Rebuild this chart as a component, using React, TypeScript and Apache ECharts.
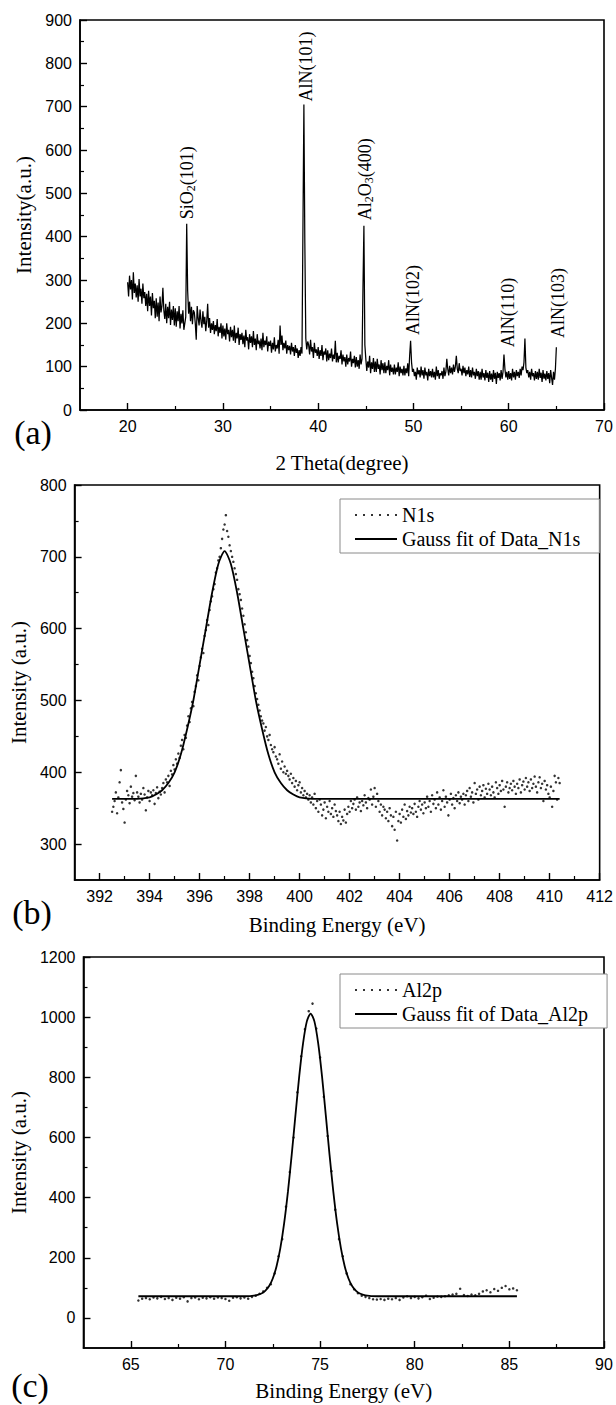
import React, { useEffect, useRef } from "react";
import * as echarts from "echarts";

const SERIF = "'Liberation Serif', 'Times New Roman', Times, serif";
const SANS = "'Liberation Sans', Arial, Helvetica, sans-serif";

// ---------------- (a) XRD pattern ----------------
const XRD_THETA_START = 20.0;
const XRD_THETA_STEP = 0.1;
const XRD_INTENSITY = [
  295, 262, 310, 278, 300, 255, 318, 270, 292, 260,
  288, 250, 302, 262, 280, 245, 292, 258, 272, 240,
  268, 228, 275, 240, 262, 218, 270, 235, 252, 212,
  258, 215, 248, 205, 262, 225, 240, 282, 230, 210,
  245, 200, 238, 212, 250, 196, 232, 208, 240, 195,
  235, 192, 228, 205, 240, 188, 222, 200, 230, 185,
  200, 215, 430, 275, 222, 250, 205, 238, 198, 230,
  225, 200, 162, 240, 212, 195, 232, 205, 190, 228,
  198, 215, 182, 205, 245, 190, 212, 178, 200, 185,
  205, 175, 196, 182, 210, 170, 192, 178, 200, 165,
  195, 170, 188, 162, 200, 175, 185, 158, 192, 168,
  185, 160, 195, 155, 178, 165, 190, 150, 175, 162,
  178, 152, 172, 145, 185, 160, 168, 140, 175, 155,
  170, 145, 182, 150, 165, 138, 175, 152, 160, 142,
  165, 138, 178, 145, 160, 150, 170, 135, 158, 148,
  160, 132, 155, 140, 168, 135, 150, 142, 162, 130,
  195, 150, 172, 138, 155, 142, 160, 130, 150, 138,
  148, 128, 155, 135, 145, 125, 150, 132, 142, 120,
  138, 125, 145, 130, 420, 705, 385, 165, 140, 158,
  150, 128, 162, 135, 145, 120, 155, 132, 140, 125,
  145, 118, 138, 125, 150, 115, 135, 128, 142, 112,
  138, 115, 130, 120, 142, 112, 128, 118, 160, 110,
  132, 110, 125, 118, 138, 105, 128, 112, 122, 100,
  128, 105, 120, 112, 135, 100, 118, 108, 125, 98,
  122, 100, 115, 95, 128, 105, 118, 280, 425, 150,
  118, 90, 112, 98, 125, 85, 110, 95, 120, 88,
  112, 88, 118, 95, 105, 82, 115, 92, 108, 85,
  110, 85, 102, 92, 115, 80, 105, 88, 98, 82,
  105, 82, 98, 88, 110, 78, 100, 85, 95, 80,
  102, 80, 96, 85, 108, 78, 125, 160, 110, 88,
  95, 78, 88, 70, 98, 82, 92, 75, 100, 80,
  92, 72, 98, 80, 88, 68, 95, 78, 90, 75,
  95, 75, 88, 70, 100, 78, 92, 72, 85, 80,
  90, 72, 98, 78, 88, 118, 95, 80, 102, 85,
  98, 82, 105, 88, 100, 125, 95, 85, 108, 90,
  95, 80, 102, 85, 98, 78, 92, 82, 100, 76,
  92, 75, 98, 80, 88, 72, 95, 78, 90, 70,
  88, 70, 95, 75, 85, 68, 92, 74, 86, 65,
  90, 70, 84, 65, 92, 72, 86, 60, 88, 74,
  85, 68, 92, 72, 88, 128, 95, 75, 88, 70,
  90, 72, 85, 68, 95, 75, 88, 70, 92, 78,
  88, 74, 95, 80, 100, 92, 110, 165, 98, 85,
  92, 75, 88, 70, 95, 78, 85, 68, 90, 72,
  88, 70, 95, 74, 86, 65, 92, 72, 84, 68,
  90, 72, 85, 62, 92, 74, 58, 88, 70, 95,
  145,
];
const XRD_X_MAJOR = [20, 30, 40, 50, 60, 70];
const XRD_X_MINOR = [25, 35, 45, 55, 65];
const XRD_Y_MAJOR = [0, 100, 200, 300, 400, 500, 600, 700, 800, 900];
const XRD_Y_MINOR = [50, 150, 250, 350, 450, 550, 650, 750, 850];
const XRD_PEAK_LABELS = ["SiO_2(101)", "AlN(101)", "Al_2O_3(400)", "AlN(102)", "AlN(110)", "AlN(103)"];
const XRD_PEAK_THETA = [26.2, 38.7, 44.9, 49.9, 59.9, 65.2];
const XRD_PEAK_LABEL_BASE = [440, 712, 438, 173, 145, 166];

// ---------------- (b) N1s XPS ----------------
const N1S_START = 392.5;
const N1S_STEP = 0.05;
const N1S_INTENSITY = [
  345, 352, 360, 372, 343, 365, 386, 403, 358, 349, 330, 362, 374, 368, 357, 380, 366, 371, 361, 395,
  372, 366, 358, 370, 362, 378, 369, 347, 365, 374, 360, 372, 368, 375, 356, 371, 379, 364, 373, 369,
  378, 385, 372, 390, 386, 395, 381, 402, 397, 410, 404, 418, 412, 426, 420, 437, 445, 432, 452, 448,
  465, 478, 470, 489, 498, 492, 512, 520, 535, 528, 548, 560, 572, 566, 590, 598, 612, 605, 626, 638,
  645, 655, 662, 678, 684, 695, 700, 712, 725, 738, 745, 758, 736, 728, 716, 708, 700, 693, 684, 676,
  668, 655, 648, 640, 628, 618, 606, 595, 584, 575, 562, 552, 540, 531, 520, 510, 502, 494, 486, 478,
  472, 468, 458, 463, 450, 445, 452, 438, 432, 428, 435, 422, 418, 412, 425, 405, 415, 400, 408, 398,
  402, 395, 390, 398, 385, 392, 380, 388, 375, 382, 386, 372, 378, 368, 374, 365, 370, 362, 368, 358,
  365, 355, 370, 350, 360, 345, 362, 355, 340, 348, 358, 336, 352, 345, 360, 342, 350, 338, 355, 346,
  340, 332, 345, 328, 338, 333, 348, 330, 342, 352, 345, 360, 350, 356, 362, 348, 365, 352, 358, 346,
  360, 354, 368, 358, 350, 364, 362, 376, 355, 366, 378, 352, 370, 360, 345, 355, 340, 352, 348, 336,
  345, 332, 350, 340, 325, 338, 320, 345, 305, 332, 342, 330, 348, 338, 355, 335, 346, 340, 352, 344,
  350, 342, 356, 345, 338, 352, 360, 348, 355, 343, 358, 350, 366, 352, 360, 345, 368, 356, 362, 350,
  372, 355, 365, 348, 360, 375, 352, 366, 358, 340, 362, 370, 355, 364, 350, 368, 360, 372, 357, 366,
  362, 370, 355, 368, 374, 360, 378, 366, 372, 358, 385, 370, 376, 362, 380, 368, 374, 382, 365, 377,
  370, 384, 376, 368, 380, 372, 365, 386, 378, 370, 382, 374, 388, 376, 352, 380, 386, 372, 378, 384,
  375, 388, 380, 370, 384, 378, 390, 372, 382, 387, 376, 392, 380, 386, 374, 390, 378, 384, 394, 380,
  372, 386, 393, 378, 384, 360, 388, 376, 382, 370, 365, 380, 352, 374, 395, 386, 362, 392, 385,
];
const N1S_FIT_X = [392.5, 393.5, 394.0, 394.25, 394.5, 394.75, 395.0, 395.25, 395.5, 395.75, 396.0, 396.25, 396.5, 396.75, 397.0, 397.25, 397.5, 397.75, 398.0, 398.25, 398.5, 398.75, 399.0, 399.25, 399.5, 399.75, 400.0, 400.5, 410.4];
const N1S_FIT_Y = [363, 363, 365, 369, 375, 385, 400, 425, 460, 500, 550, 600, 650, 690, 708, 690, 650, 600, 550, 500, 460, 425, 400, 385, 375, 369, 365, 363, 363];
const N1S_X_MAJOR = [392, 394, 396, 398, 400, 402, 404, 406, 408, 410, 412];
const N1S_X_MINOR = [393, 395, 397, 399, 401, 403, 405, 407, 409, 411];
const N1S_Y_MAJOR = [300, 400, 500, 600, 700, 800];
const N1S_Y_MINOR = [350, 450, 550, 650, 750];

// ---------------- (c) Al2p XPS ----------------
const AL_START = 65.4;
const AL_STEP = 0.2;
const AL_INTENSITY = [
  58, 64, 66, 62, 68, 65, 70, 63, 66, 60,
  67, 64, 69, 55, 66, 68, 62, 67, 65, 69,
  64, 68, 66, 63, 57, 67, 69, 65, 68, 64,
  70, 74, 80, 88, 100, 112, 148, 205, 262, 370,
  485, 600, 750, 870, 960, 1020, 1045, 962, 866, 735,
  605, 488, 360, 262, 205, 148, 112, 95, 82, 74,
  70, 66, 62, 61, 63, 60, 64, 62, 66, 60,
  68, 72, 66, 70, 65, 69, 74, 63, 67, 71,
  70, 72, 75, 78, 80, 97, 76, 73, 78, 75,
  80, 88, 92, 85, 96, 90, 100, 106, 95, 98,
  92,
];
const AL_FIT_X = [65.4, 71.0, 71.6, 71.9, 72.1, 72.3, 72.5, 72.7, 72.9, 73.1, 73.3, 73.5, 73.7, 73.9, 74.1, 74.3, 74.5, 74.7, 74.9, 75.1, 75.3, 75.5, 75.7, 75.9, 76.1, 76.3, 76.5, 76.7, 76.9, 77.1, 77.4, 78.0, 85.4];
const AL_FIT_Y = [72, 72, 75, 81, 90, 105, 131, 172, 232, 314, 419, 542, 675, 805, 913, 986, 1012, 986, 913, 805, 675, 542, 419, 314, 232, 172, 131, 105, 90, 81, 75, 72, 72];
const AL_X_MAJOR = [65, 70, 75, 80, 85, 90];
const AL_X_MINOR = [67.5, 72.5, 77.5, 82.5, 87.5];
const AL_Y_MAJOR = [0, 200, 400, 600, 800, 1000, 1200];
const AL_Y_MINOR = [100, 300, 500, 700, 900, 1100];

const DOT_ICON = "path://M0,0h2v2h-2zM8,0h2v2h-2zM16,0h2v2h-2zM24,0h2v2h-2zM32,0h2v2h-2zM40,0h2v2h-2z";

function gridded(start: number, step: number, values: number[]) {
  return values.map((v, i) => [+(start + i * step).toFixed(3), v]);
}
function paired(xs: number[], ys: number[]) {
  return xs.map((x, i) => [x, ys[i]]);
}

function mainAxis(kind: "x" | "y", grid: number, min: number, max: number, interval: number, major: number[], name: string, nameGap: number) {
  return {
    type: "value",
    gridIndex: grid,
    min,
    max,
    interval,
    position: kind === "x" ? "bottom" : "left",
    name,
    nameLocation: "middle",
    nameGap,
    nameTextStyle: { fontFamily: SERIF, fontSize: 21, color: "#000" },
    axisLine: { show: true, onZero: false, lineStyle: { color: "#000", width: 1.6 } },
    axisTick: { show: true, inside: true, length: 7, customValues: major, lineStyle: { color: "#000", width: 1.4 } },
    axisLabel: {
      show: true,
      customValues: major,
      margin: 8,
      color: "#000",
      fontFamily: SANS,
      fontSize: 16,
      formatter: (v: number) => (major.some((m) => Math.abs(m - v) < 1e-6) ? String(v) : ""),
    },
    splitLine: { show: false },
  };
}
function minorAxis(kind: "x" | "y", grid: number, min: number, max: number, interval: number, minor: number[]) {
  return {
    type: "value",
    gridIndex: grid,
    min,
    max,
    interval,
    position: kind === "x" ? "bottom" : "left",
    axisLine: { show: false, onZero: false },
    axisTick: { show: true, inside: true, length: 4, customValues: minor, lineStyle: { color: "#000", width: 1.2 } },
    axisLabel: { show: false },
    splitLine: { show: false },
  };
}

function legendFor(top: number, names: string[]) {
  return {
    orient: "vertical",
    left: 340,
    top,
    padding: [5, 19, 3, 14],
    itemGap: 2,
    itemWidth: 42,
    itemHeight: 2,
    selectedMode: false,
    borderColor: "#8a8a8a",
    borderWidth: 1,
    backgroundColor: "#fff",
    textStyle: { fontFamily: SERIF, fontSize: 20, color: "#000", lineHeight: 22 },
    data: [{ name: names[0], icon: DOT_ICON }, { name: names[1] }],
  };
}

function richLabel(s: string) {
  return "{n|" + s.replace(/_(\d)/g, "}{s|$1}{n|") + "}";
}

export default function App() {
  const ref = useRef<HTMLDivElement>(null);
  useEffect(() => {
    const chart = echarts.init(ref.current!, undefined, { renderer: "svg" });
    const option: any = {
      animation: false,
      backgroundColor: "#fff",
      textStyle: { fontFamily: SANS },
      grid: [
        { left: 80, top: 20, width: 524, height: 390, show: true, borderColor: "#000", borderWidth: 1.6 },
        { left: 73, top: 485, width: 531, height: 395, show: true, borderColor: "#000", borderWidth: 1.6 },
        { left: 81, top: 957, width: 523, height: 391, show: true, borderColor: "#000", borderWidth: 1.6 },
      ],
      xAxis: [
        mainAxis("x", 0, 15, 70, 5, XRD_X_MAJOR, "2 Theta(degree)", 42),
        minorAxis("x", 0, 15, 70, 5, XRD_X_MINOR),
        mainAxis("x", 1, 391, 412, 1, N1S_X_MAJOR, "Binding Energy (eV)", 34),
        minorAxis("x", 1, 391, 412, 1, N1S_X_MINOR),
        mainAxis("x", 2, 62.5, 90, 2.5, AL_X_MAJOR, "Binding Energy (eV)", 32),
        minorAxis("x", 2, 62.5, 90, 2.5, AL_X_MINOR),
      ],
      yAxis: [
        mainAxis("y", 0, 0, 900, 50, XRD_Y_MAJOR, "Intensity(a.u.)", 46),
        minorAxis("y", 0, 0, 900, 50, XRD_Y_MINOR),
        mainAxis("y", 1, 250, 800, 50, N1S_Y_MAJOR, "Intensity (a.u.)", 42),
        minorAxis("y", 1, 250, 800, 50, N1S_Y_MINOR),
        mainAxis("y", 2, -100, 1200, 100, AL_Y_MAJOR, "Intensity (a.u.)", 41),
        minorAxis("y", 2, -100, 1200, 100, AL_Y_MINOR),
      ],
      legend: [
        legendFor(499, ["N1s", "Gauss fit of Data_N1s"]),
        legendFor(974, ["Al2p", "Gauss fit of Data_Al2p"]),
      ],
      series: [
        {
          type: "line",
          name: "XRD",
          xAxisIndex: 0,
          yAxisIndex: 0,
          data: gridded(XRD_THETA_START, XRD_THETA_STEP, XRD_INTENSITY),
          symbol: "none",
          showSymbol: false,
          lineStyle: { color: "#000", width: 1.25 },
          itemStyle: { color: "#000" },
          silent: true,
        },
        {
          type: "scatter",
          name: "N1s",
          xAxisIndex: 2,
          yAxisIndex: 2,
          data: gridded(N1S_START, N1S_STEP, N1S_INTENSITY),
          symbol: "circle",
          symbolSize: 2.5,
          itemStyle: { color: "#000" },
          silent: true,
        },
        {
          type: "line",
          name: "Gauss fit of Data_N1s",
          xAxisIndex: 2,
          yAxisIndex: 2,
          data: paired(N1S_FIT_X, N1S_FIT_Y),
          symbol: "none",
          showSymbol: false,
          smooth: 0.25,
          lineStyle: { color: "#000", width: 1.8 },
          itemStyle: { color: "#000" },
          silent: true,
        },
        {
          type: "scatter",
          name: "Al2p",
          xAxisIndex: 4,
          yAxisIndex: 4,
          data: gridded(AL_START, AL_STEP, AL_INTENSITY),
          symbol: "circle",
          symbolSize: 2.5,
          itemStyle: { color: "#000" },
          silent: true,
        },
        {
          type: "line",
          name: "Gauss fit of Data_Al2p",
          xAxisIndex: 4,
          yAxisIndex: 4,
          data: paired(AL_FIT_X, AL_FIT_Y),
          symbol: "none",
          showSymbol: false,
          smooth: 0.25,
          lineStyle: { color: "#000", width: 1.8 },
          itemStyle: { color: "#000" },
          silent: true,
        },
      ],
    };
    chart.setOption(option);

    const letters = [
      { t: "(a)", x: 33, y: 432 },
      { t: "(b)", x: 32, y: 912 },
      { t: "(c)", x: 30, y: 1385 },
    ].map((l) => ({
      type: "text",
      x: l.x,
      y: l.y,
      silent: true,
      style: { text: l.t, fontFamily: SERIF, fontSize: 34, fill: "#000", align: "center", verticalAlign: "middle" },
    }));

    const peaks = XRD_PEAK_LABELS.map((label, i) => {
      const p = chart.convertToPixel({ xAxisIndex: 0, yAxisIndex: 0 } as any, [XRD_PEAK_THETA[i], XRD_PEAK_LABEL_BASE[i]]) as number[];
      return {
        type: "text",
        x: p[0],
        y: p[1],
        rotation: Math.PI / 2,
        silent: true,
        style: {
          text: richLabel(label),
          align: "left",
          verticalAlign: "middle",
          fill: "#000",
          rich: {
            n: { fontFamily: SERIF, fontSize: 18, lineHeight: 20, fill: "#000" },
            s: { fontFamily: SERIF, fontSize: 12, lineHeight: 20, verticalAlign: "bottom", fill: "#000" },
          },
        },
      };
    });

    chart.setOption({ graphic: [...letters, ...peaks] });
    return () => chart.dispose();
  }, []);
  return <div ref={ref} style={{ position: "absolute", left: 0, top: 0, width: 616, height: 1405 }} />;
}
